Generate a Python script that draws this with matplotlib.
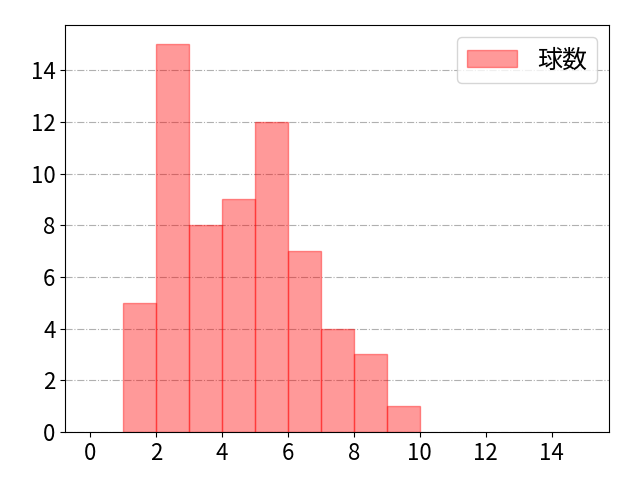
import numpy as np
import matplotlib.pyplot as plt

plt.rcParams['font.family'] = ['Noto Sans CJK JP', 'DejaVu Sans']

# bin edges and counts
bin_edges = [1, 2, 3, 4, 5, 6, 7, 8, 9, 10]
counts = [5, 15, 8, 9, 12, 7, 4, 3, 1]
label = "球数"

fig, ax = plt.subplots(figsize=(6.4, 4.8), dpi=100)
ax.grid(True, axis='y', linestyle='-.', color='#b0b0b0', linewidth=0.8)
ax.set_axisbelow(True)
ax.bar(bin_edges[:-1], counts, width=1, align='edge',
       color='red', alpha=0.4, edgecolor='red', linewidth=1, label=label)
ax.set_xlim(-0.75, 15.75)
ax.set_ylim(0, 15.75)
ax.set_xticks(np.arange(0, 16, 2))
ax.set_yticks(np.arange(0, 16, 2))
ax.tick_params(labelsize=16)
ax.legend(fontsize=18, loc='upper right')
fig.subplots_adjust(left=0.102, right=0.952, top=0.948, bottom=0.1)
plt.savefig("out.png")
